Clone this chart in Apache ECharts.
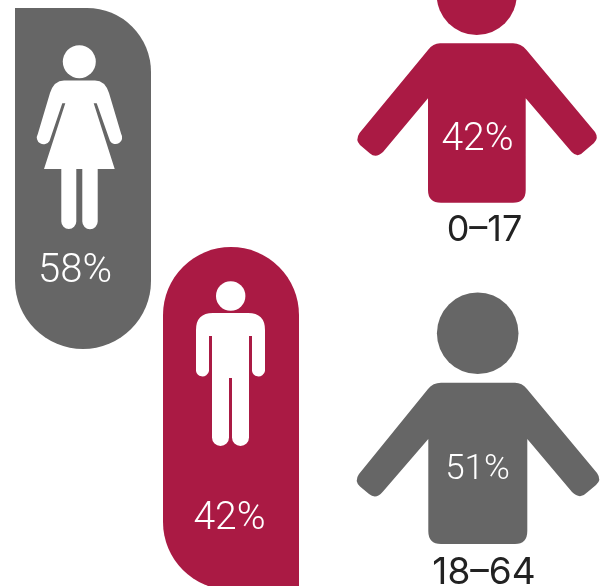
<!DOCTYPE html>
<html>
<head>
<meta charset="utf-8">
<style>html,body{margin:0;padding:0;background:#fff}#c{width:612px;height:586px}</style>
<script src="https://cdn.jsdelivr.net/npm/echarts@6/dist/echarts.min.js"></script>
</head>
<body>
<div id="c"></div>
<script>
// ---- values ----
const genderLabels = ['Female', 'Male'];
const genderShares = [58, 42];
const ageLabels = ['0–17', '18–64'];
const ageShares = [42, 51];

// ---- drawing ----
const GREY = '#666666', RED = '#AA1A44', INK = '#222222';
const FONT = 'Inter, "Noto Sans", sans-serif';
const SHARE_FONT = 'Roboto, Inter, sans-serif';

const genderLayout = [
  { fill: GREY, textX: 75, textY: 272, size: 40,
    card: 'M15 8 L87 8 A64 64 0 0 1 151 72 L151 281 A68 68 0 0 1 15 281 Z',
    head: [79.3, 61.7, 16.5],
    body: 'M64 80.5 L95 80.5 Q105 80.5 109 93 L121.2 134 A5.9 5.9 0 0 1 110 141 L96.7 103.3 L93.7 103.3 L114.7 169 L97.7 169 L97.7 221.5 A7.7 7.7 0 0 1 82.3 221.5 L82.3 169 L76.3 169 L76.3 221.5 A7.5 7.5 0 0 1 61.3 221.5 L61.3 169 L44 169 L65.3 103.3 L62.3 103.3 L49.5 141 A5.9 5.9 0 0 1 37.8 134 L50 93 Q54 80.5 64 80.5 Z' },
  { fill: RED, textX: 229.5, textY: 519, size: 39,
    card: 'M163 315 A68 68 0 0 1 299 315 L299 590 L231 590 A68 68 0 0 1 163 522 Z',
    head: [230.7, 296, 14.7],
    body: 'M196 330 Q196 313 213 313 L248 313 Q265 313 265 330 L265 371 A6.6 6.6 0 0 1 252 371 L252 336 L249 336 L249 437.5 A8.5 8.5 0 0 1 232 437.5 L232 378 L229 378 L229 437.5 A8.5 8.5 0 0 1 212 437.5 L212 336 L209 336 L209 371 A6.6 6.6 0 0 1 196 371 Z' }
];

const ageLayout = [
  { fill: RED, textX: 477.5, textY: 140, size: 39, labelX: 484.5, labelY: 230, labelSize: 36,
    head: [476.7, -5, 40],
    body: 'M440 43.3 L513 43.3 Q521 43.3 526.5 50 L595 132 Q599 138 594 143 L584 151.5 Q578 158.5 571.7 152 L525.7 98.3 L525.7 190 Q525.7 202.7 513 202.7 L441 202.7 Q428 202.7 428 190 L428 98.3 L383 152 Q376 158.5 370 153.5 L360 145 Q355 140 359.5 133 L428 50 Q433 43.3 440 43.3 Z' },
  { fill: GREY, textX: 477.5, textY: 470.5, size: 35, labelX: 484, labelY: 572.5, labelSize: 37,
    head: [477.7, 333.3, 40.8],
    body: 'M441 382.7 L515 382.7 Q522 382.7 527 389 L597 473 Q602 480 596 485 L587 492.5 Q580 500 572 492 L527.3 439 L527.3 531 Q527.3 544 515 544 L441 544 Q428.3 544 428.3 531 L428.3 439 L383 491.5 Q376 500 369 494 L360 486.5 Q354 481 359 474 L428 389 Q433 382.7 441 382.7 Z' }
];

function shareText(v) { return v + '%'; }

function renderGender(params, api) {
  const i = api.value(0), L = genderLayout[i], o = api.coord([0, 0]);
  return { type: 'group', x: o[0], y: o[1], children: [
    { type: 'path', shape: { pathData: L.card }, style: { fill: L.fill } },
    { type: 'circle', shape: { cx: L.head[0], cy: L.head[1], r: L.head[2] }, style: { fill: '#fff' } },
    { type: 'path', shape: { pathData: L.body }, style: { fill: '#fff' } },
    { type: 'text', style: { text: shareText(api.value(1)), x: L.textX, y: L.textY, align: 'center', verticalAlign: 'middle',
      fill: '#fff', font: '300 ' + L.size + 'px ' + SHARE_FONT } }
  ] };
}

function renderAge(params, api) {
  const i = api.value(0), L = ageLayout[i], o = api.coord([0, 0]);
  return { type: 'group', x: o[0], y: o[1], children: [
    { type: 'circle', shape: { cx: L.head[0], cy: L.head[1], r: L.head[2] }, style: { fill: L.fill } },
    { type: 'path', shape: { pathData: L.body }, style: { fill: L.fill } },
    { type: 'text', style: { text: shareText(api.value(1)), x: L.textX, y: L.textY, align: 'center', verticalAlign: 'middle',
      fill: '#fff', font: '300 ' + L.size + 'px ' + SHARE_FONT } },
    { type: 'text', style: { text: ageLabels[i], x: L.labelX, y: L.labelY, align: 'center', verticalAlign: 'middle',
      fill: INK, font: '400 ' + L.labelSize + 'px ' + FONT } }
  ] };
}

const chart = echarts.init(document.getElementById('c'), null, { renderer: 'canvas' });
chart.setOption({
  animation: false,
  grid: { left: 0, right: 0, top: 0, bottom: 0 },
  xAxis: { type: 'value', min: 0, max: 612, show: false },
  yAxis: { type: 'value', min: 0, max: 586, inverse: true, show: false },
  tooltip: { show: false },
  series: [
    { type: 'custom', name: 'Gender', clip: false, renderItem: renderGender,
      data: genderLabels.map((n, i) => ({ name: n, value: [i, genderShares[i]] })),
      encode: { x: -1, y: -1 } },
    { type: 'custom', name: 'Age', clip: false, renderItem: renderAge,
      data: ageLabels.map((n, i) => ({ name: n, value: [i, ageShares[i]] })),
      encode: { x: -1, y: -1 } }
  ]
});
</script>
</body>
</html>
